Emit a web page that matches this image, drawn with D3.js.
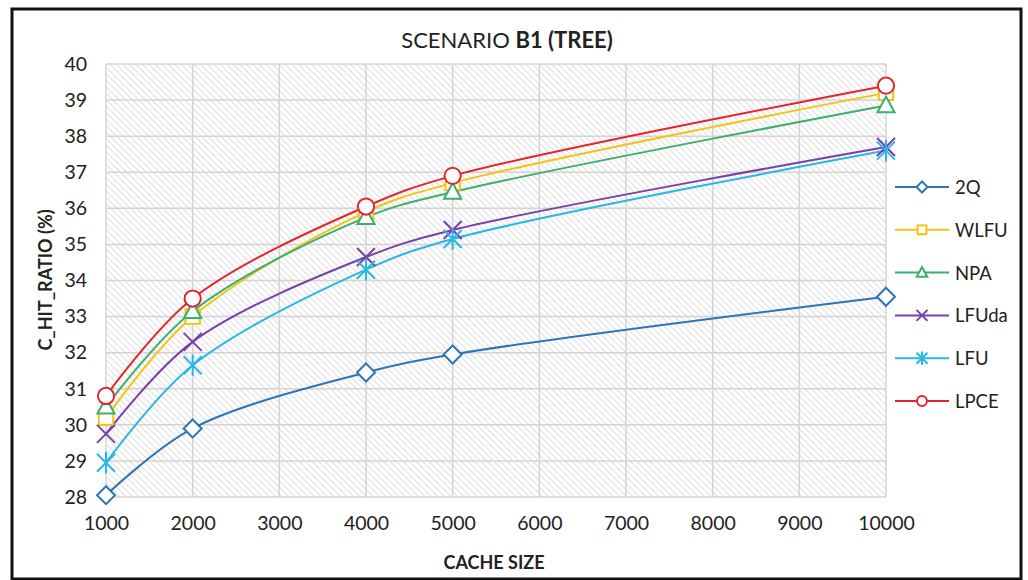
<!DOCTYPE html>
<html>
<head>
<meta charset="utf-8">
<script src="https://cdn.jsdelivr.net/npm/d3@7"></script>
<style>
  html, body { margin: 0; padding: 0; background: #fff; }
  svg { display: block; font-family: Lato, "Open Sans", "Liberation Sans", sans-serif; }
</style>
</head>
<body>
<svg id="chart" width="1028" height="580"></svg>
<script>
// Cache sizes tested and the hit ratio (%) for each replacement policy
const cacheSizes = [1000, 2000, 4000, 5000, 10000];
const seriesNames = ["2Q", "WLFU", "NPA", "LFUda", "LFU", "LPCE"];
const ratio2Q    = [28.05, 29.9, 31.45, 31.95, 33.55];
const ratioWLFU  = [30.2, 33.0, 35.9, 36.7, 39.2];
const ratioNPA   = [30.5, 33.15, 35.75, 36.45, 38.85];
const ratioLFUda = [29.75, 32.3, 34.65, 35.4, 37.7];
const ratioLFU   = [28.95, 31.65, 34.3, 35.15, 37.6];
const ratioLPCE  = [30.8, 33.5, 36.05, 36.9, 39.4];
const xTicks = [1000, 2000, 3000, 4000, 5000, 6000, 7000, 8000, 9000, 10000];
const yTicks = [28, 29, 30, 31, 32, 33, 34, 35, 36, 37, 38, 39, 40];

const seriesValues = [ratio2Q, ratioWLFU, ratioNPA, ratioLFUda, ratioLFU, ratioLPCE];
const colors = ["#2e75b6", "#f2c314", "#3cae6e", "#7a3fa8", "#2ab6e6", "#e3262b"];
const markers = ["diamond", "square", "triangle", "x", "star", "circle"];

const svg = d3.select("#chart");
const plot = { left: 106, right: 886, top: 64, bottom: 497 };

// Outer frame
svg.append("rect").attr("x", 12).attr("y", 9).attr("width", 1009).attr("height", 570)
  .attr("fill", "#fff").attr("stroke", "#111").attr("stroke-width", 3);

const x = d3.scaleLinear().domain([1000, 10000]).range([plot.left, plot.right]);
const y = d3.scaleLinear().domain([28, 40]).range([plot.bottom, plot.top]);

// Diagonal hatch fill for the plot area
const defs = svg.append("defs");
const pat = defs.append("pattern").attr("id", "hatch").attr("patternUnits", "userSpaceOnUse")
  .attr("width", 6.5).attr("height", 6.5);
pat.append("rect").attr("width", 6.5).attr("height", 6.5).attr("fill", "#fff");
pat.append("path").attr("d", "M-1,-1 L7.5,7.5 M-4,2.5 L2.5,9 M4,-2.5 L10,3.5")
  .attr("stroke", "#dcdcdc").attr("stroke-width", 1.1);

svg.append("rect").attr("x", plot.left).attr("y", plot.top)
  .attr("width", plot.right - plot.left).attr("height", plot.bottom - plot.top)
  .attr("fill", "url(#hatch)");

// Gridlines
const grid = svg.append("g");
grid.selectAll(".hg").data(yTicks).join("line")
  .attr("x1", plot.left).attr("x2", plot.right)
  .attr("y1", d => y(d)).attr("y2", d => y(d))
  .attr("stroke", "#d4d4d4").attr("stroke-width", 1.5);
grid.selectAll(".vg").data(xTicks).join("line")
  .attr("y1", plot.top).attr("y2", plot.bottom)
  .attr("x1", d => x(d)).attr("x2", d => x(d))
  .attr("stroke", "#d4d4d4").attr("stroke-width", 1.5);

// Axes (labels only, no domain lines)
const xAxis = svg.append("g").attr("transform", `translate(0,${plot.bottom})`)
  .call(d3.axisBottom(x).tickValues(xTicks).tickSize(0).tickPadding(19).tickFormat(d3.format("d")));
const yAxis = svg.append("g").attr("transform", `translate(${plot.left},0)`)
  .call(d3.axisLeft(y).tickValues(yTicks).tickSize(0).tickPadding(19).tickFormat(d3.format("d")));
[xAxis, yAxis].forEach(a => {
  a.select(".domain").remove();
  a.selectAll("text").attr("font-size", 19.5).attr("fill", "#222")
    .attr("font-family", "Lato, 'Open Sans', sans-serif");
});

// Title
const title = svg.append("text").attr("x", 507).attr("y", 48).attr("text-anchor", "middle")
  .attr("font-size", 22).attr("fill", "#222");
title.append("tspan").text("SCENARIO ");
title.append("tspan").attr("font-weight", "bold").text("B1 (TREE)");

// Axis titles
svg.append("text").attr("x", 494).attr("y", 569).attr("text-anchor", "middle")
  .attr("font-size", 18).attr("font-weight", "bold").attr("fill", "#222").text("CACHE SIZE");
svg.append("text").attr("transform", "translate(52,280) rotate(-90)").attr("text-anchor", "middle")
  .attr("font-size", 18).attr("font-weight", "bold").attr("fill", "#222").text("C_HIT_RATIO (%)");

// Marker shapes
function drawMarker(g, type, color, size) {
  const s = size;
  let el;
  switch (type) {
    case "diamond":
      el = g.append("path").attr("d", `M0,${-s}L${s},0L0,${s}L${-s},0Z`);
      break;
    case "square":
      el = g.append("rect").attr("x", -s * 0.8).attr("y", -s * 0.8).attr("width", s * 1.6).attr("height", s * 1.6);
      break;
    case "triangle":
      el = g.append("path").attr("d", `M0,${-s}L${s * 0.95},${s * 0.75}L${-s * 0.95},${s * 0.75}Z`);
      break;
    case "x":
      el = g.append("path").attr("d", `M${-s},${-s}L${s},${s}M${-s},${s}L${s},${-s}`);
      break;
    case "star":
      el = g.append("path").attr("d", `M${-s},${-s}L${s},${s}M${-s},${s}L${s},${-s}M0,${-s * 1.2}L0,${s * 1.2}`);
      break;
    case "circle":
      el = g.append("circle").attr("r", s * 0.9);
      break;
  }
  el.attr("fill", (type === "x" || type === "star") ? "none" : "#fff")
    .attr("stroke", color).attr("stroke-width", 2);
}

const line = d3.line().x(d => x(d[0])).y(d => y(d[1])).curve(d3.curveCatmullRom.alpha(0.5));

const series = seriesNames.map((name, i) => ({
  name, color: colors[i], marker: markers[i],
  pts: cacheSizes.map((c, j) => [c, seriesValues[i][j]])
}));

const lines = svg.append("g");
series.forEach(s => {
  lines.append("path").datum(s.pts).attr("d", line)
    .attr("fill", "none").attr("stroke", s.color).attr("stroke-width", 2);
});
series.forEach(s => {
  s.pts.forEach(p => {
    const g = svg.append("g").attr("transform", `translate(${x(p[0])},${y(p[1])})`);
    drawMarker(g, s.marker, s.color, 9);
  });
});

// Legend
const legend = svg.append("g");
series.forEach((s, i) => {
  const ly = 187 + i * 42.8;
  const g = legend.append("g").attr("transform", `translate(0,${ly})`);
  g.append("line").attr("x1", 895).attr("x2", 949).attr("y1", 0).attr("y2", 0)
    .attr("stroke", s.color).attr("stroke-width", 2);
  const m = g.append("g").attr("transform", "translate(922,0)");
  drawMarker(m, s.marker, s.color, 5.5);
  g.append("text").attr("x", 955).attr("y", 7).attr("font-size", 18.5).attr("fill", "#222").text(s.name);
});
</script>
</body>
</html>
